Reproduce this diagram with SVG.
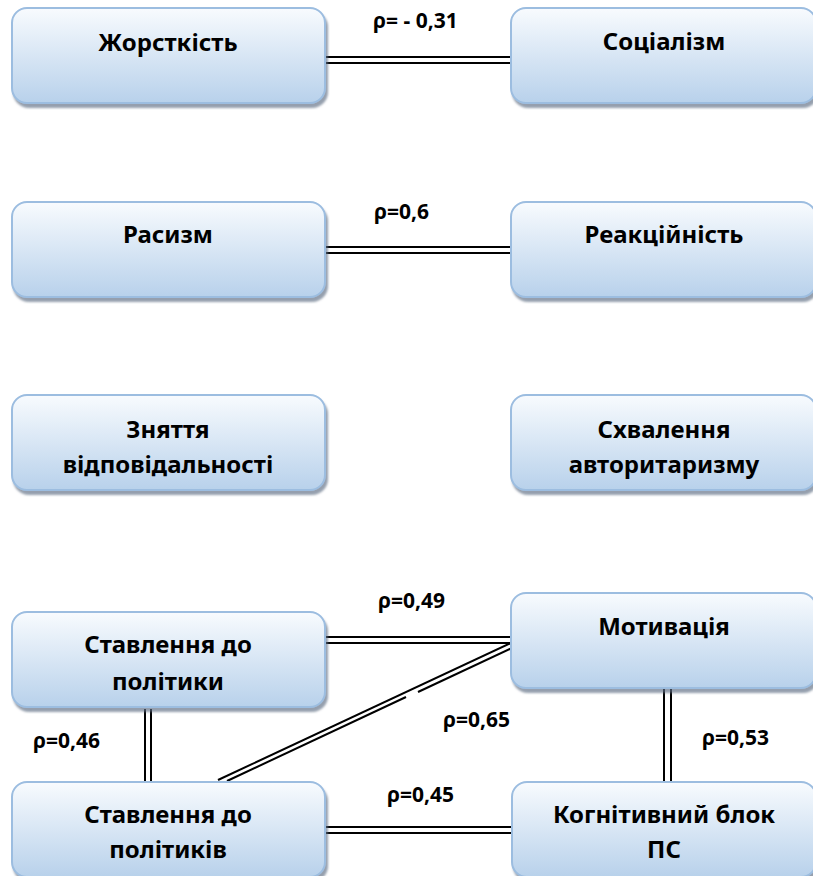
<svg xmlns="http://www.w3.org/2000/svg" width="813" height="876" viewBox="0 0 813 876">
<style>
.box{fill:url(#g);stroke:#9cbde0;stroke-width:2;filter:url(#sh)}
.t{font-family:"Noto Sans","DejaVu Sans",sans-serif;font-weight:bold;font-size:24px;fill:#000;text-anchor:middle}
.l{font-family:"Noto Sans","DejaVu Sans",sans-serif;font-weight:bold;font-size:21px;fill:#000}
.c{stroke:#000;stroke-width:2;fill:none}
</style>
<defs>
<linearGradient id="g" x1="0" y1="0" x2="0" y2="1">
<stop offset="0" stop-color="#f8fbfe"/>
<stop offset="1" stop-color="#b8d1eb"/>
</linearGradient>
<filter id="sh" x="-10%" y="-10%" width="120%" height="130%">
<feDropShadow dx="2" dy="4" stdDeviation="1.2" flood-color="#5b6c82" flood-opacity="0.65"/>
</filter>
</defs>
<rect width="813" height="876" fill="#fff"/>
<g id="connectors">
<line class="c" x1="326" y1="57" x2="511" y2="57"/>
<line class="c" x1="326" y1="63" x2="511" y2="63"/>
<line class="c" x1="326" y1="247" x2="511" y2="247"/>
<line class="c" x1="326" y1="253" x2="511" y2="253"/>
<line class="c" x1="326" y1="637" x2="511" y2="637"/>
<line class="c" x1="326" y1="643" x2="511" y2="643"/>
<line class="c" x1="511" y1="643" x2="218" y2="780"/>
<line class="c" x1="512" y1="648" x2="418" y2="692"/>
<line class="c" x1="406" y1="697" x2="227" y2="781"/>
<line class="c" x1="145" y1="709" x2="145" y2="781"/>
<line class="c" x1="151" y1="709" x2="151" y2="781"/>
<line class="c" x1="664" y1="686" x2="664" y2="782"/>
<line class="c" x1="671" y1="686" x2="671" y2="782"/>
<line class="c" x1="326" y1="827" x2="512" y2="827"/>
<line class="c" x1="326" y1="833" x2="512" y2="833"/>
</g>
<g id="labels">
<text class="l" x="373" y="28">ρ= - 0,31</text>
<text class="l" x="374" y="219">ρ=0,6</text>
<text class="l" x="378" y="608">ρ=0,49</text>
<text class="l" x="443" y="727">ρ=0,65</text>
<text class="l" x="702" y="745">ρ=0,53</text>
<text class="l" x="387" y="802">ρ=0,45</text>
<text class="l" x="33" y="748">ρ=0,46</text>
</g>
<g id="n1"><rect class="box" x="12" y="8" width="313" height="95" rx="15"/><text class="t" x="168" y="51">Жорсткість</text></g>
<g id="n2"><rect class="box" x="511" y="8" width="305" height="95" rx="15"/><text class="t" x="664" y="50">Соціалізм</text></g>
<g id="n3"><rect class="box" x="12" y="202" width="313" height="95" rx="15"/><text class="t" x="168" y="243">Расизм</text></g>
<g id="n4"><rect class="box" x="511" y="202" width="305" height="95" rx="15"/><text class="t" x="664" y="243">Реакційність</text></g>
<g id="n5"><rect class="box" x="12" y="395" width="313" height="95" rx="15"/><text class="t" x="168" y="438">Зняття</text><text class="t" x="168" y="473">відповідальності</text></g>
<g id="n6"><rect class="box" x="511" y="395" width="305" height="95" rx="15"/><text class="t" x="664" y="438">Схвалення</text><text class="t" x="664" y="473">авторитаризму</text></g>
<g id="n7"><rect class="box" x="12" y="612" width="313" height="95" rx="15"/><text class="t" x="168" y="653">Ставлення до</text><text class="t" x="168" y="690">політики</text></g>
<g id="n8"><rect class="box" x="511" y="593" width="305" height="95" rx="15"/><text class="t" x="664" y="635">Мотивація</text></g>
<g id="n9"><rect class="box" x="12" y="782" width="313" height="95" rx="15"/><text class="t" x="168" y="823">Ставлення до</text><text class="t" x="168" y="858">політиків</text></g>
<g id="n10"><rect class="box" x="512" y="782" width="304" height="95" rx="15"/><text class="t" x="664" y="823">Когнітивний блок</text><text class="t" x="664" y="858">ПС</text></g>
</svg>
